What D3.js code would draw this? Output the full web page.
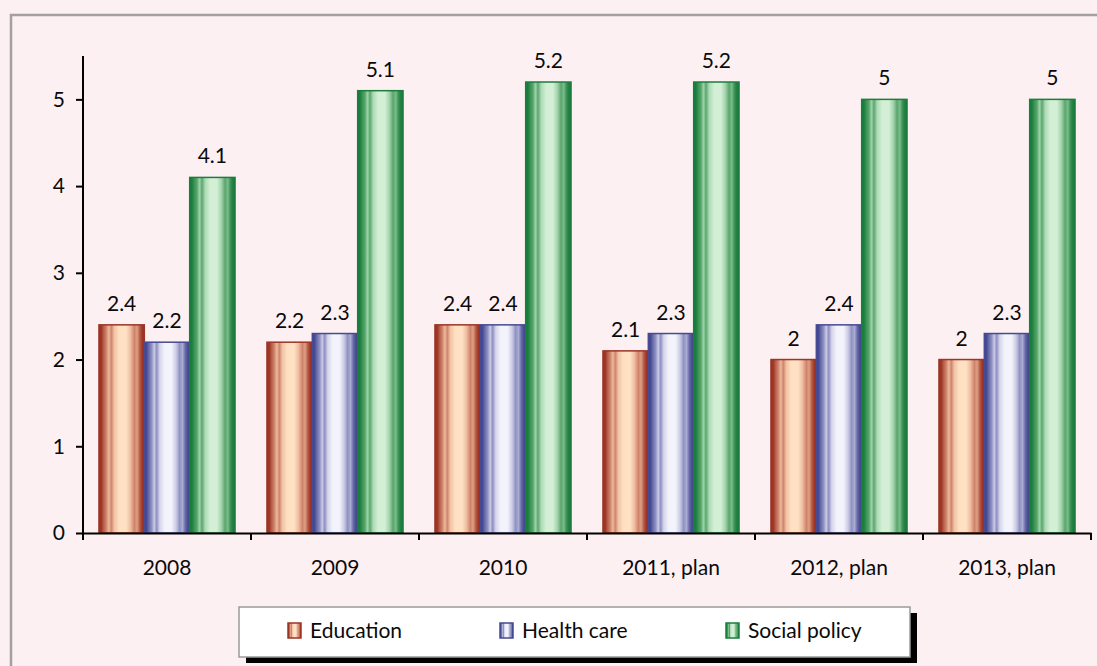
<!DOCTYPE html>
<html>
<head>
<meta charset="utf-8">
<script src="https://cdn.jsdelivr.net/npm/d3@7"></script>
<style>
body { margin: 0; background: #fdf0f3; }
text { font-family: Lato, "Open Sans", sans-serif; fill: #0a0a0a; }
</style>
</head>
<body>
<script>
// chart data
const categories = ["2008", "2009", "2010", "2011, plan", "2012, plan", "2013, plan"];
const seriesNames = ["Education", "Health care", "Social policy"];
const education = [2.4, 2.2, 2.4, 2.1, 2, 2];
const healthCare = [2.2, 2.3, 2.4, 2.3, 2.4, 2.3];
const socialPolicy = [4.1, 5.1, 5.2, 5.2, 5, 5];
const yTicks = [0, 1, 2, 3, 4, 5];

const width = 1097;
const height = 666;
const margin = { top: 56, right: 6, bottom: 133, left: 83 };
const fontSize = "21px";

// colours per series: edge, middle, centre
const palette = {
    "Education": ["#9b3526", "#d0836a", "#ffe0c2"],
    "Health care": ["#464a92", "#8e90c2", "#f3f3fb"],
    "Social policy": ["#1b7d3e", "#58a66c", "#d3efd5"]
};

const svg = d3.select("body")
    .append("svg")
    .attr("width", width)
    .attr("height", height);

// gradients that imitate the striped cylinder look
const defs = svg.append("defs");
seriesNames.forEach((name, i) => {
    const c = palette[name];
    const mix = d3.interpolateRgb(c[1], c[2]);
    const dark = d3.interpolateRgb(c[0], c[1]);
    const g = defs.append("linearGradient")
        .attr("id", "grad" + i)
        .attr("x1", "0%").attr("x2", "100%")
        .attr("y1", "0%").attr("y2", "0%");
    const stops = [
        [0, c[0]], [0.05, c[0]], [0.1, dark(0.5)], [0.16, c[1]], [0.22, mix(0.6)],
        [0.27, c[1]], [0.34, mix(0.7)], [0.45, c[2]], [0.6, c[2]], [0.7, mix(0.6)],
        [0.78, c[1]], [0.84, mix(0.3)], [0.9, dark(0.5)], [0.96, c[0]], [1, c[0]]
    ];
    stops.forEach(s => {
        g.append("stop").attr("offset", s[0]).attr("stop-color", s[1]);
    });
});

// outer frame
svg.append("rect")
    .attr("x", 11)
    .attr("y", 15)
    .attr("width", width + 20)
    .attr("height", height + 20)
    .attr("fill", "#fdf0f3")
    .attr("stroke", "#a3a0a1")
    .attr("stroke-width", 2.5);

const x = d3.scaleBand()
    .domain(categories)
    .range([margin.left, width - margin.right])
    .paddingInner(0.19)
    .paddingOuter(0.095);

const xs = d3.scaleBand()
    .domain(seriesNames)
    .range([0, x.bandwidth()]);

const y = d3.scaleLinear()
    .domain([0, 5.5])
    .range([height - margin.bottom, margin.top]);

const rows = categories.map((cat, i) => ({
    cat: cat,
    values: [
        { name: "Education", value: education[i] },
        { name: "Health care", value: healthCare[i] },
        { name: "Social policy", value: socialPolicy[i] }
    ]
}));

const groups = svg.selectAll("g.group")
    .data(rows)
    .enter()
    .append("g")
    .attr("class", "group")
    .attr("transform", d => "translate(" + x(d.cat) + ",0)");

groups.selectAll("rect")
    .data(d => d.values)
    .enter()
    .append("rect")
    .attr("x", d => xs(d.name))
    .attr("width", xs.bandwidth())
    .attr("y", d => y(d.value))
    .attr("height", d => y(0) - y(d.value))
    .attr("fill", d => "url(#grad" + seriesNames.indexOf(d.name) + ")")
    .attr("stroke", d => palette[d.name][0])
    .attr("stroke-width", 1.5);

// value labels
groups.selectAll("text.val")
    .data(d => d.values)
    .enter()
    .append("text")
    .attr("class", "val")
    .attr("x", d => xs(d.name) + xs.bandwidth() / 2)
    .attr("y", d => y(d.value) - 14)
    .attr("text-anchor", "middle")
    .style("font-size", fontSize)
    .text(d => d.value);

// y axis
const yAxis = svg.append("g")
    .attr("transform", "translate(" + margin.left + ",0)")
    .call(d3.axisLeft(y).tickValues(yTicks).tickFormat(d3.format("d"))
        .tickSize(7).tickSizeOuter(0).tickPadding(11));
yAxis.select(".domain").attr("stroke", "#000").attr("stroke-width", 2)
    .attr("d", "M0," + (y(0) + 7) + "V" + y(5.5));
yAxis.selectAll(".tick line").attr("stroke", "#000").attr("stroke-width", 2);
yAxis.selectAll(".tick text").style("font-size", fontSize).attr("fill", "#0a0a0a");

// x axis
const xAxis = svg.append("g")
    .attr("transform", "translate(0," + y(0) + ")")
    .call(d3.axisBottom(x).tickSize(0).tickSizeOuter(0).tickPadding(27));
xAxis.select(".domain").attr("stroke", "#000").attr("stroke-width", 2);
xAxis.selectAll(".tick text").style("font-size", fontSize).attr("fill", "#0a0a0a");

// boundary ticks between categories
const step = x.step();
xAxis.selectAll("line.sep")
    .data(categories)
    .enter()
    .append("line")
    .attr("class", "sep")
    .attr("x1", d => x(d) + x.bandwidth() + (step - x.bandwidth()) / 2)
    .attr("x2", d => x(d) + x.bandwidth() + (step - x.bandwidth()) / 2)
    .attr("y1", 0)
    .attr("y2", 7)
    .attr("stroke", "#000")
    .attr("stroke-width", 2);

// legend
const legend = svg.append("g").attr("transform", "translate(239,607)");
legend.append("rect")
    .attr("x", 7).attr("y", 6)
    .attr("width", 671).attr("height", 50)
    .attr("fill", "#000");
legend.append("rect")
    .attr("width", 671).attr("height", 50)
    .attr("fill", "#fff")
    .attr("stroke", "#9a9a9a")
    .attr("stroke-width", 1.5);

const legendX = [49, 261, 487];
const items = legend.selectAll("g.item")
    .data(seriesNames)
    .enter()
    .append("g")
    .attr("class", "item")
    .attr("transform", (d, i) => "translate(" + legendX[i] + ",0)");
items.append("rect")
    .attr("y", 16)
    .attr("width", 13)
    .attr("height", 15)
    .attr("fill", (d, i) => "url(#grad" + i + ")")
    .attr("stroke", d => palette[d][0])
    .attr("stroke-width", 1.5);
items.append("text")
    .attr("x", 22)
    .attr("y", 31)
    .style("font-size", fontSize)
    .text(d => d);
</script>
</body>
</html>
